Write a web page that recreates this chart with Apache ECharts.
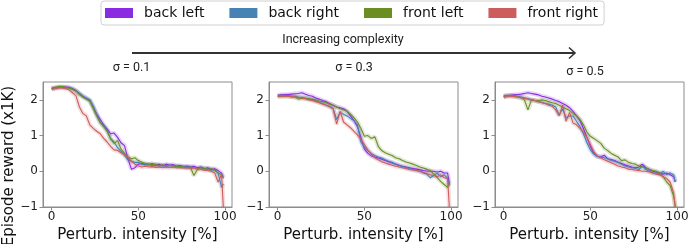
<!DOCTYPE html>
<html><head><meta charset="utf-8">
<script src="https://cdn.jsdelivr.net/npm/echarts@6/dist/echarts.min.js"></script>
<style>html,body{margin:0;padding:0;background:#fff}#c{width:692px;height:244px}</style>
</head><body><div id="c"></div>
<script>
// ---- data ----
const xs = [0,2,4,6,8,10,12,14,16,18,20,22,24,26,28,30,32,34,36,38,40,42,44,46,48,50,52,54,56,58,60,62,64,66,68,70,72,74,76,78,80,82,84,86,88,90,92,94,96,98,99];
const seriesNames = ['back left','back right','front left','front right'];
const panelTitles = ['σ = 0.1','σ = 0.3','σ = 0.5'];
const xTickValues = [0,50,100];
const yTickValues = [-1,0,1,2];

// sigma = 0.1
const s1BackLeft  = [2.32,2.33,2.35,2.36,2.36,2.35,2.32,2.26,2.18,2.1,2.04,1.98,1.8,1.6,1.45,1.3,1.18,1.05,1.07,0.95,0.8,0.72,0.35,0.06,0.1,0.2,0.22,0.2,0.18,0.22,0.17,0.2,0.15,0.2,0.17,0.19,0.14,0.16,0.13,0.15,0.12,0.14,0.1,0.12,0.08,0.1,0.05,0.07,0.02,-0.05,-0.2];
const s1BackRight = [2.3,2.33,2.35,2.35,2.34,2.33,2.3,2.25,2.18,2.1,2.05,2.0,1.82,1.58,1.38,1.27,1.14,0.92,0.82,0.66,0.56,0.45,0.32,0.28,0.25,0.25,0.2,0.18,0.2,0.15,0.18,0.14,0.17,0.13,0.16,0.14,0.15,0.12,0.14,0.11,0.13,0.1,0.08,0.1,0.06,0.08,0.03,0.05,-0.05,-0.45,-0.35];
const s1FrontLeft = [2.33,2.35,2.37,2.37,2.35,2.33,2.3,2.25,2.15,2.08,2.02,1.96,1.76,1.55,1.36,1.25,1.12,0.9,0.78,0.86,0.62,0.5,0.4,0.35,0.38,0.3,0.25,0.22,0.2,0.18,0.2,0.16,0.18,0.15,0.17,0.14,0.15,0.13,0.12,0.1,0.12,-0.12,0.05,0.1,0.08,0.05,0.08,0.02,-0.05,-0.1,-0.15];
const s1FrontRight= [2.3,2.32,2.33,2.33,2.32,2.28,2.2,2.12,1.8,1.62,1.55,1.3,1.2,1.12,1.05,0.92,0.82,0.7,0.6,0.58,0.52,0.46,0.4,0.28,0.2,0.15,0.12,0.14,0.12,0.13,0.11,0.12,0.1,0.12,0.1,0.12,0.1,0.11,0.09,0.1,0.08,0.09,0.07,0.05,0.03,0.02,0.0,-0.05,-0.3,-0.1,-1.0];

// sigma = 0.3
const s2BackLeft  = [2.13,2.14,2.14,2.15,2.16,2.17,2.18,2.2,2.16,2.12,2.1,2.05,2.02,1.98,1.95,1.9,1.85,1.8,1.78,1.75,1.68,1.55,1.42,1.25,0.95,0.62,0.5,0.43,0.4,0.37,0.34,0.3,0.27,0.23,0.2,0.17,0.14,0.12,0.1,0.08,0.06,0.04,0.02,0.01,0.0,0.0,-0.02,0.0,-0.05,-0.05,-0.35];
const s2BackRight = [2.1,2.11,2.12,2.12,2.11,2.1,2.08,2.07,2.05,2.03,2.0,1.97,1.93,1.9,1.85,1.82,1.75,1.45,1.65,1.6,1.55,1.48,1.42,1.3,0.82,0.68,0.58,0.5,0.44,0.4,0.37,0.32,0.28,0.25,0.2,0.16,0.13,0.1,0.08,0.05,0.02,0.0,-0.05,-0.08,-0.18,-0.12,-0.05,-0.15,-0.1,-0.2,-0.4];
const s2FrontLeft = [2.1,2.1,2.11,2.1,2.08,2.08,2.02,2.05,2.04,2.03,2.02,2.0,1.97,1.95,1.92,1.88,1.85,1.8,1.75,1.72,1.68,1.6,1.5,1.38,1.2,0.98,1.0,0.92,0.97,0.7,0.58,0.52,0.48,0.44,0.38,0.35,0.3,0.26,0.23,0.2,0.16,0.12,0.09,0.06,0.02,-0.08,-0.18,-0.28,-0.37,-0.45,-0.35];
const s2FrontRight= [2.1,2.1,2.11,2.1,2.09,2.08,2.07,2.05,2.03,2.0,1.98,1.95,1.92,1.88,1.85,1.8,1.75,1.32,1.68,1.38,1.3,1.22,1.12,1.02,0.9,0.75,0.6,0.48,0.38,0.32,0.27,0.23,0.2,0.17,0.14,0.12,0.1,0.08,0.05,0.04,0.02,0.0,-0.03,-0.06,-0.1,-0.12,-0.15,-0.1,-0.18,-0.2,-1.0];

// sigma = 0.5
const s3BackLeft  = [2.1,2.12,2.13,2.14,2.15,2.16,2.18,2.2,2.18,2.16,2.14,2.1,2.08,2.05,2.02,1.98,1.95,1.9,1.85,1.78,1.68,1.55,1.42,1.2,0.95,0.7,0.5,0.42,0.4,0.45,0.35,0.33,0.3,0.25,0.22,0.18,0.15,0.12,0.1,0.12,0.2,0.1,0.05,0.0,-0.02,-0.05,-0.08,-0.05,-0.1,-0.15,-0.3];
const s3BackRight = [2.08,2.1,2.12,2.12,2.1,2.08,2.06,2.04,2.0,1.98,1.95,1.93,1.9,1.88,1.85,1.8,1.58,1.75,1.5,1.55,1.55,1.4,1.25,1.05,0.8,0.6,0.48,0.42,0.4,0.38,0.35,0.3,0.28,0.25,0.2,0.15,0.12,0.1,0.08,0.05,0.15,0.05,0.0,-0.05,-0.05,-0.08,0.0,-0.1,-0.05,-0.1,-0.3];
const s3FrontLeft = [2.1,2.12,2.12,2.1,2.08,2.06,2.0,1.72,2.0,1.98,1.98,2.0,1.98,1.95,1.92,1.9,1.85,1.8,1.75,1.7,1.62,1.55,1.45,1.3,1.1,0.98,0.92,0.85,0.78,0.65,0.58,0.5,0.45,0.4,0.3,0.32,0.25,0.22,0.2,0.15,0.12,0.1,0.05,0.02,0.0,-0.05,-0.15,-0.3,-0.4,-0.7,-1.0];
const s3FrontRight= [2.08,2.1,2.1,2.09,2.08,2.06,2.04,2.02,2.0,1.98,1.95,1.92,1.9,1.85,1.82,1.72,1.55,1.85,1.4,1.65,1.35,1.3,1.2,1.1,0.95,0.75,0.55,0.42,0.38,0.32,0.28,0.24,0.2,0.15,0.12,0.1,0.06,0.05,0.03,0.02,0.0,0.0,-0.02,-0.05,-0.08,-0.1,-0.15,-0.2,-0.3,-0.6,-1.0];

const panels = [
  [s1BackLeft, s1BackRight, s1FrontLeft, s1FrontRight],
  [s2BackLeft, s2BackRight, s2FrontLeft, s2FrontRight],
  [s3BackLeft, s3BackRight, s3FrontLeft, s3FrontRight]
];

// ---- styling ----
const colors = ['#8a2be2','#4682b4','#6b8e23','#cd5c5c'];
const gridLefts = [43, 269, 495];
const spine = '#8c8c8c';
const dv = 'DejaVu Sans';

const grids = [], xAxes = [], yAxes = [], series = [];
panels.forEach((p, i) => {
  grids.push({left: gridLefts[i], top: 82, width: 189, height: 125, show: true, borderColor: spine, borderWidth: 1,
    backgroundColor: 'transparent', containLabel: false, outerBoundsMode: 'none'});
  xAxes.push({
    type: 'value', gridIndex: i, min: -5, max: 104,
    axisLine: {show: true, onZero: false, lineStyle: {color: spine, width: 1}},
    axisTick: {show: true, customValues: xTickValues, length: 3.5, lineStyle: {color: spine}},
    axisLabel: {customValues: xTickValues, fontSize: 12, fontFamily: dv, color: '#222', margin: 4},
    splitLine: {show: false},
    name: 'Perturb. intensity [%]', nameLocation: 'middle', nameGap: 16,
    nameTextStyle: {fontSize: 15, fontFamily: dv, color: '#111'}
  });
  yAxes.push({
    type: 'value', gridIndex: i, min: -1, max: 2.5,
    axisLine: {show: true, onZero: false, lineStyle: {color: spine, width: 1}},
    axisTick: {show: true, customValues: yTickValues, length: 3.5, lineStyle: {color: spine}},
    axisLabel: {customValues: yTickValues, fontSize: 12, fontFamily: dv, color: '#222', margin: 5,
      formatter: v => v < 0 ? '\u2212' + (-v) : String(v)},
    splitLine: {show: false}
  });
  p.forEach((vals, j) => {
    const data = xs.map((x, k) => [x, vals[k]]);
    series.push({
      type: 'line', name: seriesNames[j] + ' band', xAxisIndex: i, yAxisIndex: i, data,
      symbol: 'none', silent: true, z: 1,
      lineStyle: {width: 4.5, color: colors[j], opacity: 0.2}, itemStyle: {color: colors[j]}
    });
  });
  p.forEach((vals, j) => {
    const data = xs.map((x, k) => [x, vals[k]]);
    series.push({
      type: 'line', name: seriesNames[j], xAxisIndex: i, yAxisIndex: i, data,
      symbol: 'none', z: 2,
      lineStyle: {width: 1.1, color: colors[j]}, itemStyle: {color: colors[j]}
    });
  });
});

const graphic = [
  {type: 'text', x: 9, y: 166, rotation: Math.PI / 2,
   style: {text: 'Episode reward (x1K)', font: '15px "DejaVu Sans"', fill: '#111', align: 'center', verticalAlign: 'middle'}},
  {type: 'text', x: 343, y: 40,
   style: {text: 'Increasing complexity', font: '12.5px Roboto', fill: '#222', align: 'center', verticalAlign: 'middle'}},
  {type: 'line', shape: {x1: 132, y1: 53, x2: 575, y2: 53}, style: {stroke: '#333', lineWidth: 1.8}},
  {type: 'polyline', shape: {points: [[569, 47.5], [575, 53], [569, 58.5]]}, style: {stroke: '#333', lineWidth: 1.6, fill: null}},
  {type: 'text', x: 131.5, y: 68, style: {text: panelTitles[0], font: '12.5px Roboto', fill: '#222', align: 'center', verticalAlign: 'middle'}},
  {type: 'text', x: 354, y: 68, style: {text: panelTitles[1], font: '12.5px Roboto', fill: '#222', align: 'center', verticalAlign: 'middle'}},
  {type: 'text', x: 585, y: 71.5, style: {text: panelTitles[2], font: '12.5px Roboto', fill: '#222', align: 'center', verticalAlign: 'middle'}}
];

const chart = echarts.init(document.getElementById('c'), null, {renderer: 'canvas'});
chart.setOption({
  animation: false,
  backgroundColor: '#fff',
  legend: {
    data: seriesNames, left: 101, top: 1, icon: 'rect', itemWidth: 28, itemHeight: 10, itemGap: 25,
    padding: [5, 6, 5, 4], borderColor: '#d0d0d0', borderWidth: 1, borderRadius: 3,
    textStyle: {fontSize: 14, fontFamily: dv, color: '#111', padding: [0, 0, 0, 6]}
  },
  grid: grids, xAxis: xAxes, yAxis: yAxes, series, graphic
});
</script></body></html>
